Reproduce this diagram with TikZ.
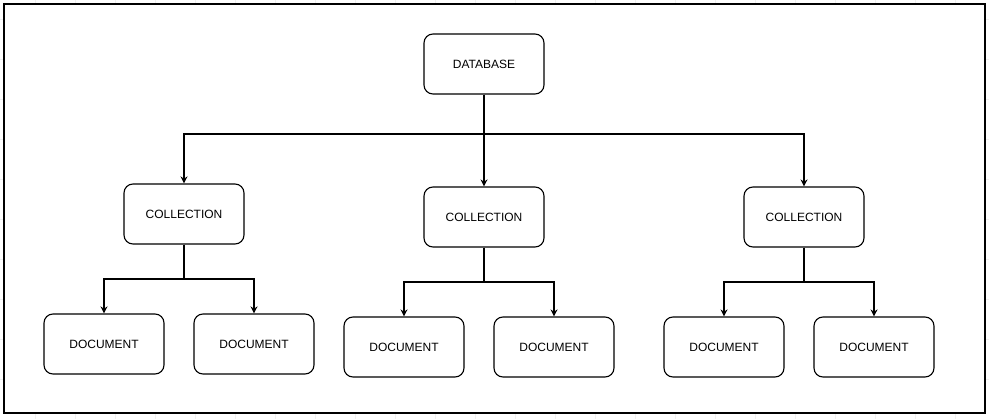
\documentclass[tikz,border=0pt]{standalone}
\usepackage{fontspec}
\setmainfont{Liberation Sans}
\usetikzlibrary{arrows.meta}
\begin{document}
\begin{tikzpicture}[x=1pt,y=-1pt,>={Stealth[length=7pt,width=7pt]},
  box/.style={draw,line width=1.1pt,rounded corners=9pt,minimum width=120pt,minimum height=60pt,inner sep=0pt,font=\fontsize{12}{14}\selectfont},
  link/.style={line width=1.1pt},
  gridline/.style={gray!12,line width=0.8pt}]
\useasboundingbox (0,0) rectangle (989,419);
\foreach \x in {35,75,...,995} \draw[gridline](\x,0)--(\x,419);
\foreach \y in {19,59,...,419} \draw[gridline](0,\y)--(989,\y);
\draw[fill=white,line width=1.1pt](4,4) rectangle (985,413);
% top level
\node[box] (db) at (484,64) {DATABASE};
\node[box] (coll1) at (184,214) {COLLECTION};
\node[box] (coll2) at (484,217) {COLLECTION};
\node[box] (coll3) at (804,217) {COLLECTION};
% documents
\node[box] (doc1) at (104,344) {DOCUMENT};
\node[box] (doc2) at (254,344) {DOCUMENT};
\node[box] (doc3) at (404,347) {DOCUMENT};
\node[box] (doc4) at (554,347) {DOCUMENT};
\node[box] (doc5) at (724,347) {DOCUMENT};
\node[box] (doc6) at (874,347) {DOCUMENT};
\coordinate (split0) at (484,134);
\coordinate (split1) at (184,279);
\coordinate (split2) at (484,282);
\coordinate (split3) at (804,282);
\draw[link,->](db)--(coll2);
\draw[link,->](split0)-|(coll1);
\draw[link,->](split0)-|(coll3);
\draw[link](coll1)--(split1);
\draw[link,->](split1)-|(doc1);
\draw[link,->](split1)-|(doc2);
\draw[link](coll2)--(split2);
\draw[link,->](split2)-|(doc3);
\draw[link,->](split2)-|(doc4);
\draw[link](coll3)--(split3);
\draw[link,->](split3)-|(doc5);
\draw[link,->](split3)-|(doc6);
\end{tikzpicture}
\end{document}
